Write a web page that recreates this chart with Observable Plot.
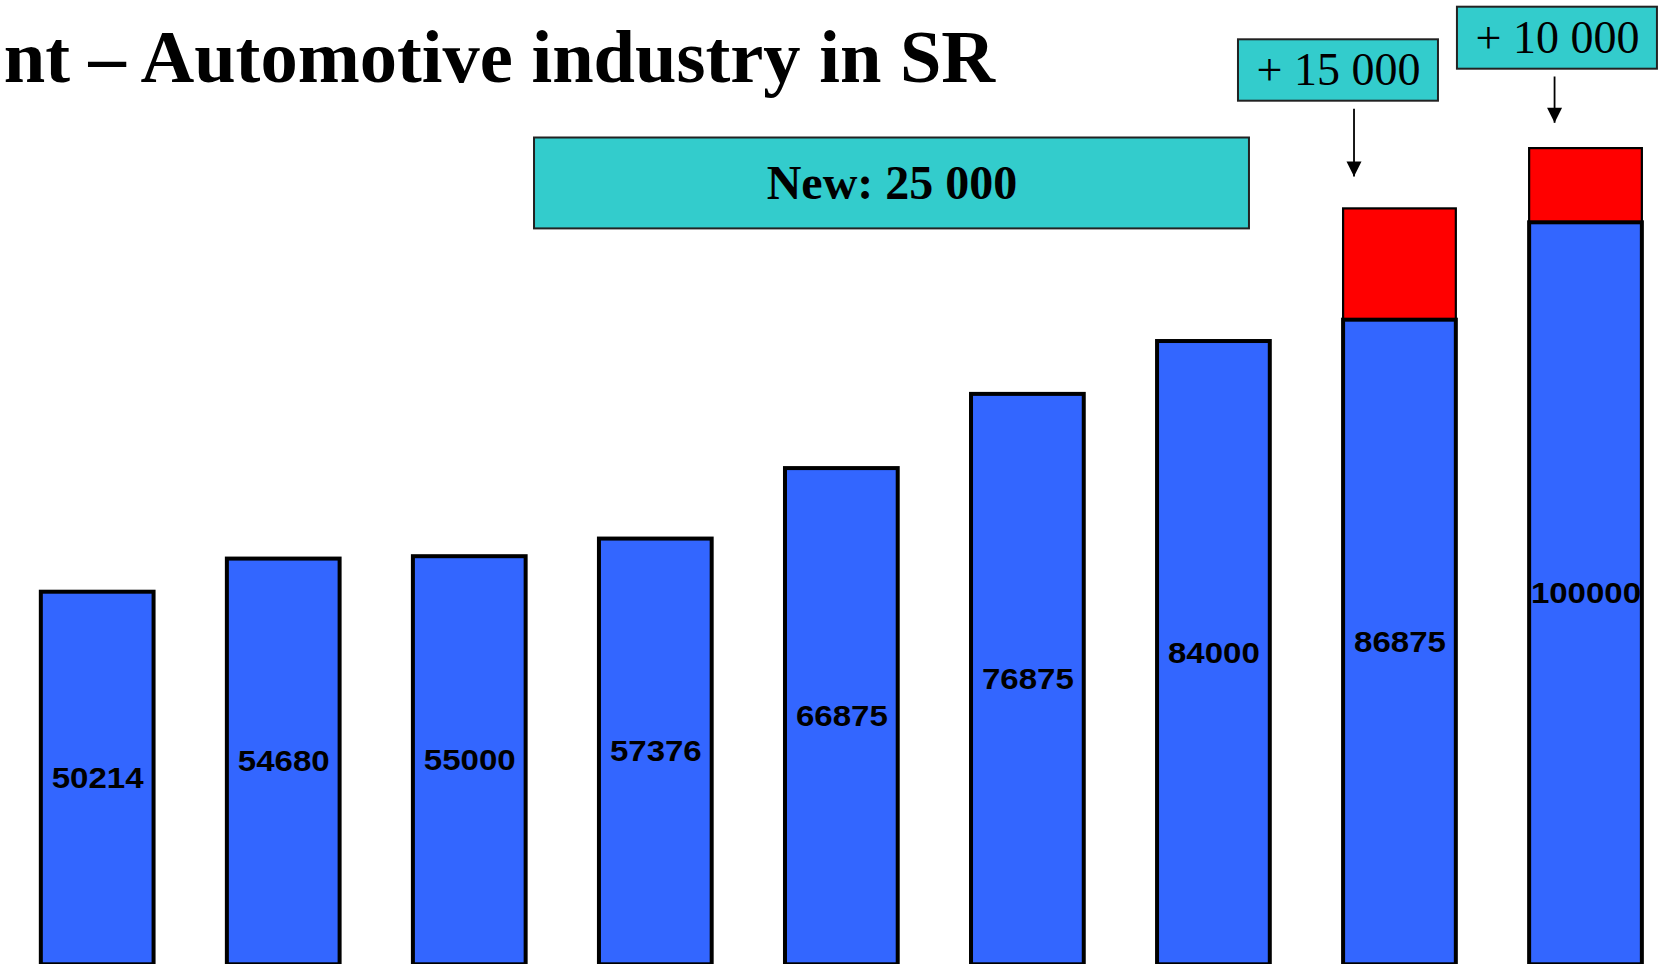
<!DOCTYPE html>
<html>
<head>
<meta charset="utf-8">
<script src="https://cdn.jsdelivr.net/npm/d3@7"></script>
<script src="https://cdn.jsdelivr.net/npm/@observablehq/plot@0.6"></script>
<style>
  html, body { margin: 0; padding: 0; background: #fff; overflow: hidden; }
  #chart svg { display: block; }
</style>
</head>
<body>
<div id="chart"></div>
<script>
// ---- data ----
const categories = ["1", "2", "3", "4", "5", "6", "7", "8", "9"];
const values = [50214, 54680, 55000, 57376, 66875, 76875, 84000, 86875, 100000];
const additions = [0, 0, 0, 0, 0, 0, 0, 15000, 10000];
const titleText = "nt – Automotive industry in SR";

// annotation boxes (data units: x = bar index, y = value)
const boxLabels = ["New: 25 000", "+ 15 000", "+ 10 000"];
const boxX1 = [2.348, 6.132, 7.309];
const boxX2 = [6.191, 7.207, 8.384];
const boxY1 = [99178, 116388, 120701];
const boxY2 = [111429, 124663, 129057];
const boxBold = [true, false, false];

// arrows (data units)
const arrowX = [6.753, 7.831];
const arrowFrom = [115364, 119717];
const arrowTo = [106240, 113477];

// ---- tables ----
const bars = values.map((v, i) => ({i, cat: categories[i], value: v, add: additions[i]}));
const extra = bars.filter(d => d.add > 0);
const boxes = boxLabels.map((t, k) => ({label: t, x1: boxX1[k], x2: boxX2[k], y1: boxY1[k], y2: boxY2[k], bold: boxBold[k]}));
const arrows = arrowX.map((x, k) => ({x, y1: arrowFrom[k], y2: arrowTo[k]}));

const half = 0.303;

function filledArrow(color, context) {
  const ns = "http://www.w3.org/2000/svg";
  const doc = (context && context.document) || document;
  const m = doc.createElementNS(ns, "marker");
  m.setAttribute("viewBox", "-10 -5 10 10");
  m.setAttribute("markerWidth", 15);
  m.setAttribute("markerHeight", 15);
  m.setAttribute("markerUnits", "userSpaceOnUse");
  m.setAttribute("orient", "auto");
  m.setAttribute("overflow", "visible");
  const p = doc.createElementNS(ns, "path");
  p.setAttribute("d", "M-10,-5L0,0L-10,5Z");
  p.setAttribute("fill", "#000");
  p.setAttribute("stroke", "none");
  m.appendChild(p);
  return m;
}

const chart = Plot.plot({
  width: 1658,
  height: 964,
  margin: 0,
  style: {background: "#fff", overflow: "hidden"},
  x: {type: "linear", domain: [0, 8], range: [97.2, 1585.5], axis: null},
  y: {domain: [0, 130000], range: [964.3, -0.3], axis: null},
  marks: [
    // red additions (drawn first so blue top stroke overlays)
    Plot.rect(extra, {
      x1: d => d.i - half, x2: d => d.i + half,
      y1: d => d.value, y2: d => d.value + d.add,
      fill: "#FF0000", stroke: "#000", strokeWidth: 2.2
    }),
    // blue bars
    Plot.rect(bars, {
      x1: d => d.i - half, x2: d => d.i + half,
      y1: 0, y2: d => d.value,
      fill: "#3366FF", stroke: "#000", strokeWidth: 4
    }),
    // value labels
    Plot.text(bars, {
      x: "i", y: d => d.value / 2, text: d => String(d.value),
      fontFamily: "Liberation Sans, Arial, sans-serif",
      fontWeight: "bold", fontSize: 29.5, fill: "#000",
      textAnchor: "middle", lineAnchor: "middle"
    }),
    // annotation boxes
    Plot.rect(boxes, {
      x1: "x1", x2: "x2", y1: "y1", y2: "y2",
      fill: "#33CCCC", stroke: "#222", strokeWidth: 2
    }),
    Plot.text(boxes.filter(d => d.bold), {
      x: d => (d.x1 + d.x2) / 2, y: d => (d.y1 + d.y2) / 2, text: "label",
      fontFamily: "Liberation Serif, Times New Roman, serif",
      fontWeight: "bold", fontSize: 48, fill: "#000", lineAnchor: "middle"
    }),
    Plot.text(boxes.filter(d => !d.bold), {
      x: d => (d.x1 + d.x2) / 2, y: d => (d.y1 + d.y2) / 2, text: "label",
      fontFamily: "Liberation Serif, Times New Roman, serif",
      fontWeight: "normal", fontSize: 46, fill: "#000", lineAnchor: "middle"
    }),
    // arrows
    Plot.link(arrows, {
      x1: "x", x2: "x", y1: "y1", y2: "y2",
      stroke: "#000", strokeWidth: 1.8, markerEnd: filledArrow
    }),
    // title (cropped slide title)
    Plot.text([titleText], {
      x: [-0.505], y: [122143], text: d => d,
      fontFamily: "Liberation Serif, Times New Roman, serif",
      fontWeight: "bold", fontSize: 74.5, fill: "#000",
      textAnchor: "start", lineAnchor: "middle"
    })
  ]
});

document.getElementById("chart").appendChild(chart);
// the original's bar value labels are horizontally stretched: widen them about their centre
const labelSet = new Set(values.map(String));
chart.querySelectorAll("text").forEach(t => {
  if (!labelSet.has(t.textContent)) return;
  const b = t.getBBox();
  const cx = b.x + b.width / 2;
  const prev = t.getAttribute("transform") || "";
  t.setAttribute("transform", `${prev} translate(${cx},0) scale(1.12,1) translate(${-cx},0)`.trim());
});
</script>
</body>
</html>
